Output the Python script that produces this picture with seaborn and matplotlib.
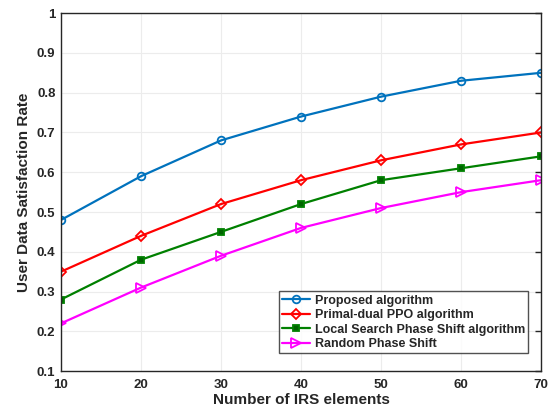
import matplotlib
matplotlib.use("Agg")
import matplotlib.pyplot as plt
import seaborn as sns
import pandas as pd

irs_elements = [10, 20, 30, 40, 50, 60, 70]
proposed = [0.48, 0.59, 0.68, 0.74, 0.79, 0.83, 0.85]
ppo = [0.35, 0.44, 0.52, 0.58, 0.63, 0.67, 0.70]
local_search = [0.28, 0.38, 0.45, 0.52, 0.58, 0.61, 0.64]
random_shift = [0.22, 0.31, 0.39, 0.46, 0.51, 0.55, 0.58]
labels = ["Proposed algorithm", "Primal-dual PPO algorithm",
          "Local Search Phase Shift algorithm", "Random Phase Shift"]
yticks = [0.1, 0.2, 0.3, 0.4, 0.5, 0.6, 0.7, 0.8, 0.9, 1]

sns.set_style("white")
plt.rcParams['font.family'] = ['Liberation Sans', 'DejaVu Sans']
plt.rcParams['font.weight'] = 'bold'

fig = plt.figure(figsize=(5.54, 4.11), dpi=100)
ax = fig.add_axes([0.110, 0.097, 0.8665, 0.871])

series = [proposed, ppo, local_search, random_shift]
colors = ["#0072BD", "#FF0000", "#008000", "#FF00FF"]
markers = ["o", "D", "s", ">"]
sizes = [5.5, 5, 4.5, 6.5]
mfcs = ["none", "none", "#006400", "none"]

for vals, lab, c, m, ms, mfc in zip(series, labels, colors, markers, sizes, mfcs):
    df = pd.DataFrame({"x": irs_elements, "y": vals})
    sns.lineplot(data=df, x="x", y="y", ax=ax, color=c, marker=m, markersize=ms,
                 markerfacecolor=mfc, markeredgecolor=c, markeredgewidth=1.3,
                 linewidth=1.6, label=lab)

ax.set_xlim(10, 70)
ax.set_ylim(0.1, 1)
ax.set_xticks(irs_elements)
ax.set_yticks(yticks)
ax.set_yticklabels([f"{v:g}" for v in yticks])
ax.grid(True, color="#ececec", linewidth=0.8)
ax.tick_params(direction="in", length=4, width=1, labelsize=9.5, top=False, right=True, pad=4)
ax.tick_params(axis="x", pad=6)
for s in ax.spines.values():
    s.set_visible(True)
    s.set_color("#262626")
    s.set_linewidth(1)
ax.set_xlabel("Number of IRS elements", fontsize=11, fontweight="bold", labelpad=1)
ax.set_ylabel("User Data Satisfaction Rate", fontsize=11, fontweight="bold", labelpad=4)

leg = ax.legend(loc="lower right", bbox_to_anchor=(0.973, 0.05), fontsize=9,
                frameon=True, fancybox=False, edgecolor="#262626",
                borderpad=0.25, labelspacing=0.2, handlelength=2.2, handletextpad=0.4,
                borderaxespad=0)
leg.get_frame().set_linewidth(1)
for t in leg.get_texts():
    t.set_fontweight("bold")

fig.savefig("out.png", dpi=100)
